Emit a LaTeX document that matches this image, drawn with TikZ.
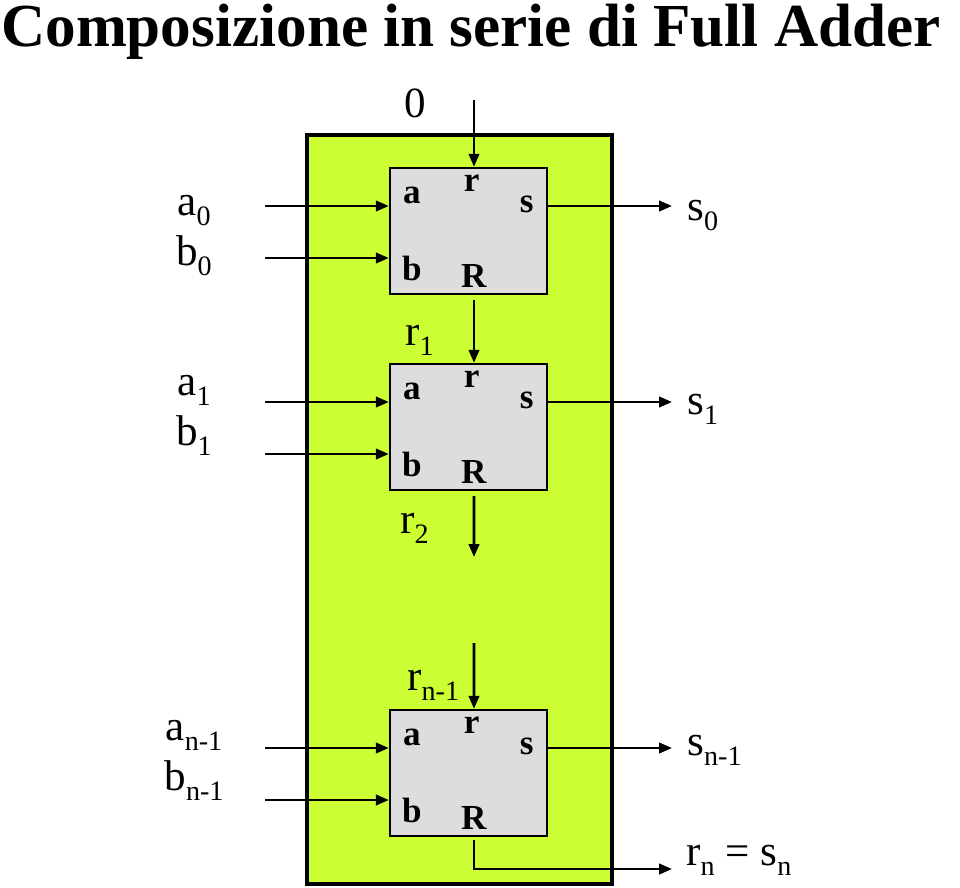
\documentclass[tikz,border=0pt]{standalone}
\usepackage{fontspec}
\setmainfont{Liberation Serif}
\usetikzlibrary{positioning,calc,arrows.meta}
\definecolor{lime}{HTML}{CCFF33}
\definecolor{boxgray}{HTML}{DDDDDD}
\newcommand{\lo}[1]{\raisebox{-6pt}{\fontsize{16}{16}\selectfont #1}}

\begin{document}
\begin{tikzpicture}[x=0.02cm,y=-0.02cm,
    fa/.style={rectangle,draw,line width=1.4pt,fill=boxgray,minimum width=3.14cm,minimum height=2.52cm,inner sep=0pt},
    pin/.style={font=\fontsize{20}{20}\selectfont\bfseries,inner sep=0pt},
    sig/.style={font=\fontsize{24.5}{25}\selectfont,inner sep=0pt},
    arrow/.style={-{Triangle[length=0.26cm,width=0.21cm]},line width=1.5pt}]

\useasboundingbox (0,0) rectangle (960,887);

\node[anchor=base west,font=\fontsize{34.8}{36}\selectfont\bfseries,inner sep=0pt] (title) at (1,46) {Composizione in serie di Full Adder};

% contenitore
\draw[line width=2.3pt,fill=lime] (307,135) rectangle (612,884);

% full adder in cascata
\foreach \i/\t/\s/\la/\lb/\ls in {0/168/0/215/265/220,1/364/1/395/445/414,2/710/n-1/740/790/755}{
  \node[fa] (fa\i) at (468.5,\t+63) {};
  \node[pin] at ([shift={(23,29)}]fa\i.north west) {a};
  \node[pin] at ([shift={(23,102)}]fa\i.north west) {b};
  \node[pin] at ([shift={(83,16)}]fa\i.north west) {r};
  \node[pin] at ([shift={(138,38)}]fa\i.north west) {s};
  \node[pin] at ([shift={(85,109)}]fa\i.north west) {R};
  \coordinate (ina\i) at (265,\t+38);
  \coordinate (inb\i) at (265,\t+90);
  \coordinate (out\i) at (672,\t+38);
  \draw[arrow] (ina\i) -- (fa\i.west |- ina\i);
  \draw[arrow] (inb\i) -- (fa\i.west |- inb\i);
  \draw[arrow] (fa\i.east |- out\i) -- (out\i);
  \node[sig,anchor=base] (sa\i) at (194,\la) {a\lo{\s}};
  \node[sig,anchor=base] (sb\i) at (194,\lb) {b\lo{\s}};
  \node[sig,anchor=base west] (so\i) at (687,\ls) {s\lo{\s}};
}

% riporti
\coordinate (cin) at (474,100);
\node[sig,anchor=base] (zero) at (415,117) {0};
\draw[arrow] (cin) -- (cin |- fa0.north);
\draw[arrow] ([shift={(5.5,5)}]fa0.south) -- ([shift={(5.5,0)}]fa1.north);
\node[sig,anchor=base west] (r1) at (405,345) {r\lo{1}};
\coordinate (gapa) at (474,557);
\coordinate (gapb) at (474,643);
\draw[arrow] ([shift={(5.5,5)}]fa1.south) -- (gapa);
\node[sig,anchor=base west] (r2) at (400,533) {r\lo{2}};
\draw[arrow] (gapb) -- ([shift={(5.5,0)}]fa2.north);
\node[sig,anchor=base west] (rn1) at (407,690) {r\lo{n-1}};
\coordinate (rout) at (672,869);
\draw[arrow] ([shift={(5.5,3)}]fa2.south) |- (rout);
\node[sig,anchor=base west] (rn) at (686,865) {r\lo{n} = s\lo{n}};

\end{tikzpicture}
\end{document}
